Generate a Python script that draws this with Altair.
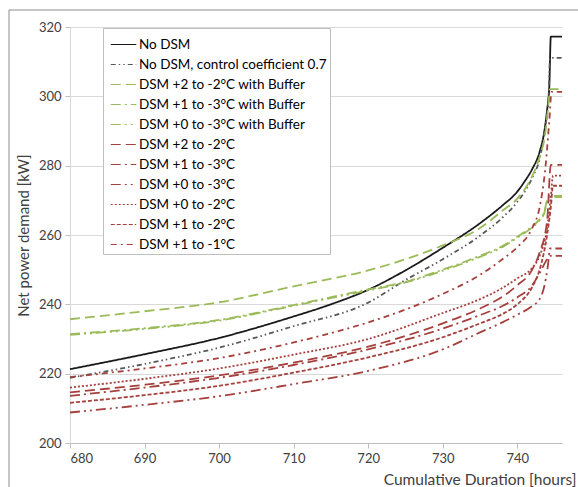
import altair as alt
import pandas as pd

SERIES = [
    "No DSM",
    "No DSM, control coefficient 0.7",
    "DSM +2 to -2°C with Buffer",
    "DSM +1 to -3°C with Buffer",
    "DSM +0 to -3°C with Buffer",
    "DSM +2 to -2°C",
    "DSM +1 to -3°C",
    "DSM +0 to -3°C",
    "DSM +0 to -2°C",
    "DSM +1 to -2°C",
    "DSM +1 to -1°C",
]

# x (hours) and y (kW) per series
x_no_dsm = [680, 690, 700, 710, 715, 720, 725, 730, 735, 738, 740, 741, 742, 743, 743.6, 744.0, 744.3, 744.5, 746]
y_no_dsm = [221.3, 225.6, 230.3, 236.5, 240.0, 244.2, 249.8, 256.3, 263.4, 268.5, 272.5, 275.5, 279.0, 284.0, 289.5, 296.0, 303.0, 317.2, 317.2]

x_ctrl = [680, 690, 700, 710, 720, 725, 730, 735, 738, 740, 742, 743, 743.8, 744.2, 744.4, 746]
y_ctrl = [218.8, 222.8, 227.5, 233.7, 240.5, 247.0, 253.0, 259.8, 265.0, 269.5, 276.5, 282.0, 292.0, 300.0, 311.1, 311.1]

x_b22 = [680, 690, 700, 710, 720, 725, 730, 735, 738, 740, 742, 743, 743.8, 744.2, 744.4, 746]
y_b22 = [235.7, 238.0, 240.6, 245.2, 249.8, 253.0, 257.0, 262.0, 267.0, 270.5, 277.0, 282.5, 290.0, 298.0, 302.1, 302.1]

x_b13 = [680, 690, 700, 710, 720, 725, 730, 735, 738, 740, 742, 743, 743.6, 744.0, 744.3, 746]
y_b13 = [231.4, 233.1, 235.5, 239.8, 244.3, 246.5, 250.0, 254.0, 256.8, 259.5, 262.5, 264.5, 266.5, 270.0, 271.3, 271.3]

x_b03 = [680, 690, 700, 710, 720, 725, 730, 735, 738, 740, 742, 743, 743.6, 744.0, 744.3, 746]
y_b03 = [231.2, 232.9, 235.3, 239.6, 244.0, 246.3, 249.7, 253.7, 256.5, 259.2, 262.2, 264.2, 266.2, 269.6, 270.9, 270.9]

x_d22 = [680, 690, 700, 710, 720, 730, 735, 738, 740, 742, 743, 744.0, 744.5, 746]
y_d22 = [214.6, 216.8, 219.5, 223.2, 227.8, 234.5, 238.8, 242.2, 245.5, 250.0, 255.0, 264.0, 280.2, 280.2]

x_d13 = [680, 690, 700, 710, 720, 730, 735, 738, 740, 742, 743, 744.0, 744.4, 746]
y_d13 = [213.6, 216.0, 218.8, 222.5, 227.0, 233.0, 236.9, 239.5, 242.0, 245.5, 249.0, 253.0, 254.0, 254.0]

x_d03 = [680, 690, 700, 710, 720, 730, 735, 738, 740, 742, 743, 743.6, 744.1, 744.4, 746]
y_d03 = [208.8, 211.0, 213.5, 217.0, 220.8, 227.0, 231.9, 234.8, 237.0, 239.5, 241.5, 245.0, 251.0, 256.1, 256.1]

x_d02 = [680, 690, 700, 710, 720, 730, 735, 738, 740, 742, 743, 744.0, 744.5, 744.8, 746]
y_d02 = [216.0, 218.5, 221.5, 225.5, 230.0, 237.5, 241.5, 244.7, 247.5, 250.5, 254.0, 262.0, 271.0, 277.1, 277.1]

x_d12 = [680, 690, 700, 710, 720, 730, 735, 738, 740, 742, 743, 744.0, 744.5, 744.8, 746]
y_d12 = [211.6, 213.8, 216.5, 220.3, 224.7, 230.5, 234.5, 237.2, 240.0, 245.0, 250.0, 260.0, 268.0, 274.2, 274.2]

x_d11 = [680, 690, 700, 710, 720, 725, 730, 735, 738, 740, 742, 743, 743.8, 744.3, 744.6, 746]
y_d11 = [219.0, 221.5, 224.5, 229.0, 234.8, 238.5, 243.0, 248.5, 253.0, 256.5, 262.0, 268.0, 280.0, 293.0, 301.3, 301.3]

X_TICKS = [680, 690, 700, 710, 720, 730, 740]
Y_TICKS = [200, 220, 240, 260, 280, 300, 320]

COLORS = ["#1a1a1a", "#595959", "#9bbb59", "#9bbb59", "#9bbb59",
          "#a5403d", "#a5403d", "#a5403d", "#a5403d", "#a5403d", "#a5403d"]
DASHES = [[1, 0], [5, 3, 1.5, 3, 1.5, 3], [10, 5], [10, 4, 2, 4], [10, 4, 2, 4, 2, 4],
          [10, 5], [10, 4, 2, 4], [10, 4, 2, 4, 2, 4], [2, 2], [4, 2], [6, 4, 2, 4]]
WIDTHS = [1.2, 1.2, 1.8, 1.8, 1.8, 1.8, 1.8, 1.8, 1.8, 1.8, 1.8]

pairs = [(x_no_dsm, y_no_dsm), (x_ctrl, y_ctrl), (x_b22, y_b22), (x_b13, y_b13),
         (x_b03, y_b03), (x_d22, y_d22), (x_d13, y_d13), (x_d03, y_d03),
         (x_d02, y_d02), (x_d12, y_d12), (x_d11, y_d11)]

rows = []
for name, (xs, ys) in zip(SERIES, pairs):
    for xv, yv in zip(xs, ys):
        rows.append({"series": name, "hours": xv, "kw": yv})
df = pd.DataFrame(rows)

FONT = "Lato"

lines = alt.Chart(df).mark_line(interpolate="monotone", strokeWidth=1.8).encode(
    x=alt.X("hours:Q",
            scale=alt.Scale(domain=[680, 746], nice=False, zero=False),
            axis=alt.Axis(values=X_TICKS, grid=False, title="Cumulative Duration [hours]",
                          titleAnchor="end", titleAlign="right", titleX=506, titleY=41,
                          titleBaseline="alphabetic", titleFontWeight="normal",
                          titleFontSize=15.5, titleColor="#404040",
                          labelFontSize=13, labelColor="#404040", labelPadding=4,
                          tickSize=5, tickColor="#bfbfbf", domainColor="#bfbfbf")),
    y=alt.Y("kw:Q",
            scale=alt.Scale(domain=[200, 320], nice=False, zero=False),
            axis=alt.Axis(values=Y_TICKS, grid=True, gridColor="#d9d9d9",
                          title="Net power demand [kW]", titleFontWeight="normal",
                          titleFontSize=15, titleColor="#404040", titlePadding=7,
                          labelFontSize=13, labelColor="#404040", labelPadding=4,
                          tickSize=5, tickColor="#bfbfbf", domainColor="#d9d9d9")),
    color=alt.Color("series:N", scale=alt.Scale(domain=SERIES, range=COLORS),
                    sort=SERIES,
                    legend=alt.Legend(orient="none", legendX=33, legendY=1, title=None,
                                      symbolType="stroke", symbolSize=650,
                                      symbolStrokeWidth=1.6, labelFontSize=13.5,
                                      labelFont=FONT, labelColor="#000000",
                                      strokeColor="#bfbfbf", fillColor="white",
                                      padding=3, rowPadding=0, labelLimit=400,
                                      symbolOffset=4, labelOffset=2)),
    strokeDash=alt.StrokeDash("series:N", scale=alt.Scale(domain=SERIES, range=DASHES),
                              sort=SERIES, legend=None),
    strokeWidth=alt.StrokeWidth("series:N", scale=alt.Scale(domain=SERIES, range=WIDTHS),
                                legend=None),
)

frame_df = pd.DataFrame({"a": [0]})
frame = alt.Chart(frame_df).mark_rect(fill=None, stroke="#8c8c8c", strokeWidth=1).encode(
    x=alt.value(-61), y=alt.value(-17), x2=alt.value(700), y2=alt.value(700)
)

chart = alt.layer(lines, frame).properties(
    width=492, height=416,
    padding={"left": 70, "top": 27, "right": 16, "bottom": 44},
    autosize=alt.AutoSizeParams(type="none"),
).configure(font=FONT).configure_view(stroke=None)

chart.save("out.html", embed_options={"renderer": "svg", "actions": False})
